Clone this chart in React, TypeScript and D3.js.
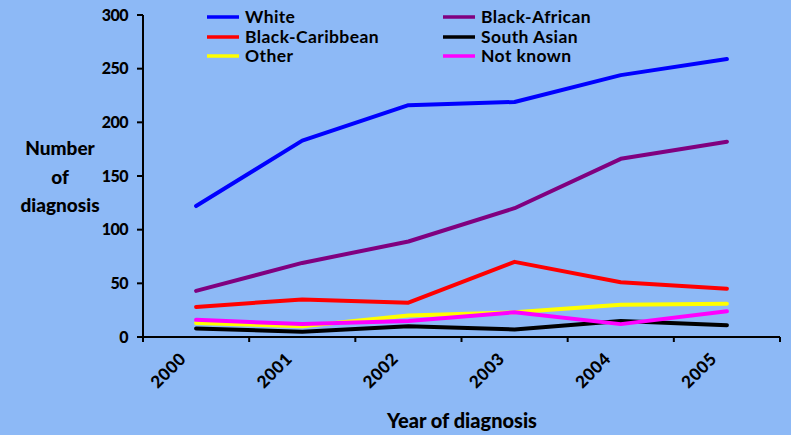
import React, { useEffect, useRef } from "react";
import * as d3 from "d3";

const years = ["2000", "2001", "2002", "2003", "2004", "2005"];
const seriesNames = ["White", "Black-African", "Black-Caribbean", "South Asian", "Other", "Not known"];
const seriesColors = ["#0000ff", "#800080", "#ff0000", "#000000", "#ffff00", "#ff00ff"];
const white = [122, 183, 216, 219, 244, 259];
const blackAfrican = [43, 69, 89, 120, 166, 182];
const blackCaribbean = [28, 35, 32, 70, 51, 45];
const southAsian = [8, 5, 10, 7, 15, 11];
const other = [13, 10, 20, 23, 30, 31];
const notKnown = [16, 12, 15, 23, 12, 24];
const seriesValues = [white, blackAfrican, blackCaribbean, southAsian, other, notKnown];
const yTicks = [0, 50, 100, 150, 200, 250, 300];

const W = 791;
const H = 435;
const FONT = "Lato, 'DejaVu Sans', sans-serif";

export default function App() {
  const ref = useRef<SVGSVGElement>(null);

  useEffect(() => {
    const svg = d3.select(ref.current);
    svg.selectAll("*").remove();

    const left = 143, right = 780, top = 15, bottom = 337;
    const x = d3.scaleBand<string>().domain(years).range([left, right]).padding(0);
    const y = d3.scaleLinear().domain([0, 300]).range([bottom, top]);

    svg.append("rect").attr("width", W).attr("height", H).attr("fill", "#8db9f6");

    // Y axis
    const gy = svg.append("g");
    gy.append("line").attr("x1", left).attr("x2", left).attr("y1", top).attr("y2", bottom + 5)
      .attr("stroke", "#000").attr("stroke-width", 2);
    yTicks.forEach((t) => {
      gy.append("line").attr("x1", left - 6).attr("x2", left).attr("y1", y(t)).attr("y2", y(t))
        .attr("stroke", "#000").attr("stroke-width", 2);
      gy.append("text").attr("x", 128).attr("y", y(t)).attr("dy", "0.35em")
        .attr("text-anchor", "end").attr("font-family", FONT).attr("font-weight", 900)
        .attr("font-size", 16).attr("letter-spacing", "-0.5").text(String(t));
    });

    // X axis with ticks at category boundaries
    const gx = svg.append("g");
    gx.append("line").attr("x1", left).attr("x2", right).attr("y1", bottom).attr("y2", bottom)
      .attr("stroke", "#000").attr("stroke-width", 2);
    years.forEach((yr) => {
      const bx = (x(yr) as number) + x.bandwidth();
      gx.append("line").attr("x1", bx).attr("x2", bx).attr("y1", bottom).attr("y2", bottom + 5)
        .attr("stroke", "#000").attr("stroke-width", 2);
      const cx = (x(yr) as number) + x.bandwidth() / 2;
      gx.append("text")
        .attr("transform", `translate(${cx - 9},${360}) rotate(-45)`)
        .attr("text-anchor", "end").attr("font-family", FONT).attr("font-weight", 900)
        .attr("font-size", 17).attr("letter-spacing", "0.5").text(yr);
    });

    // Series lines
    const line = d3.line<number>()
      .x((_, i) => (x(years[i]) as number) + x.bandwidth() / 2)
      .y((d) => y(d));
    seriesValues.forEach((vals, i) => {
      svg.append("path").datum(vals).attr("d", line).attr("fill", "none")
        .attr("stroke", seriesColors[i]).attr("stroke-width", 4)
        .attr("stroke-linejoin", "round").attr("stroke-linecap", "round");
    });

    // Legend, two columns of three rows
    const legendCols = [207, 443];
    const legendRows = [17, 37, 56];
    seriesNames.forEach((name, i) => {
      const col = i % 2;
      const row = Math.floor(i / 2);
      const lx = legendCols[col];
      const ly = legendRows[row];
      svg.append("line").attr("x1", lx).attr("x2", lx + 32).attr("y1", ly).attr("y2", ly)
        .attr("stroke", seriesColors[i]).attr("stroke-width", 3.5);
      svg.append("text").attr("x", lx + 38).attr("y", ly).attr("dy", "0.35em")
        .attr("font-family", FONT).attr("font-weight", 700).attr("font-size", 17.5)
        .attr("letter-spacing", "0.4").text(name);
    });

    // Axis titles
    const yTitle = ["Number", "of", "diagnosis"];
    const yTitleBase = [155, 184, 212];
    yTitle.forEach((t, i) => {
      svg.append("text").attr("x", 60).attr("y", yTitleBase[i]).attr("text-anchor", "middle")
        .attr("font-family", FONT).attr("font-weight", 900).attr("font-size", 19).text(t);
    });
    svg.append("text").attr("x", 462).attr("y", 428).attr("text-anchor", "middle")
      .attr("font-family", FONT).attr("font-weight", 900).attr("font-size", 20)
      .text("Year of diagnosis");
  }, []);

  return (
    <svg ref={ref} width={W} height={H}
      style={{ position: "absolute", left: 0, top: 0, display: "block" }} />
  );
}
